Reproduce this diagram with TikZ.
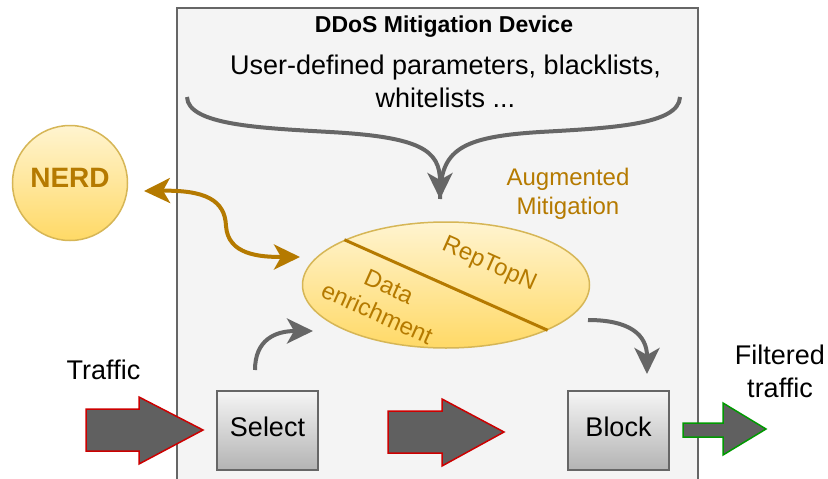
\documentclass[tikz,border=0pt]{standalone}
\usepackage{fontspec}
\setmainfont{Liberation Sans}
\usetikzlibrary{arrows.meta,shapes.geometric}
\definecolor{boxgray}{HTML}{666666}
\definecolor{devfill}{HTML}{F4F4F4}
\definecolor{nerdbrown}{RGB}{181,122,0}
\definecolor{yellowtop}{HTML}{FFF4D0}
\definecolor{yellowbot}{HTML}{FFD966}
\definecolor{yellowline}{HTML}{D6B656}
\definecolor{arrowgray}{HTML}{606060}
\definecolor{redline}{HTML}{CC0000}
\definecolor{greenline}{HTML}{009900}
\definecolor{btntop}{HTML}{F5F5F5}
\definecolor{btnbot}{HTML}{B3B3B3}
\begin{document}
\begin{tikzpicture}[x=1pt,y=-1pt,
  >={Stealth[length=26pt,width=25pt,inset=7pt]},
  bigtxt/.style={font=\fontsize{27}{33}\selectfont},
  midtxt/.style={font=\fontsize{24}{29}\selectfont},
  grayconn/.style={draw=boxgray, line width=4pt},
  brownconn/.style={draw=nerdbrown, line width=4pt},
  yellowshape/.style={draw=yellowline, line width=1.5pt, top color=yellowtop, bottom color=yellowbot, inner sep=0pt},
  btnbox/.style={rectangle, draw=boxgray, line width=1.5pt, top color=btntop, bottom color=btnbot, minimum width=101pt, minimum height=79pt, text depth=7pt, bigtxt},
  redarrow/.style={fill=arrowgray, draw=redline, line width=1.5pt},
  greenarrow/.style={fill=arrowgray, draw=greenline, line width=1.5pt}
]
\useasboundingbox (0,0) rectangle (828,479);
\begin{scope}
\clip (0,0) rectangle (828,479);
\draw[fill=devfill, draw=boxgray, line width=2pt] (177,8) rectangle (698,500);
\end{scope}

\node[anchor=base, font=\bfseries\fontsize{23}{28}\selectfont] (title) at (444,32) {DDoS Mitigation Device};
\node[anchor=base, bigtxt, align=center] (params) at (445.5,107) {User-defined parameters, blacklists,\\whitelists ...};
\node[anchor=base, midtxt, align=center, text=nerdbrown] (aug) at (568,214) {Augmented\\Mitigation};

% brace
\coordinate (braceL) at (187,97);
\coordinate (braceR) at (680,97);
\coordinate (bracetip) at (440,199);
\draw[grayconn] (braceR) .. controls (679,125) and (610,128) .. (540,132) .. controls (460,137) and (440,150) .. (bracetip);
\draw[grayconn, ->] (braceL) .. controls (188,125) and (260,128) .. (330,132) .. controls (420,137) and (440,150) .. (bracetip);

% ellipse
\node[ellipse, yellowshape, minimum width=287pt, minimum height=126pt] (E) at (446,285) {};
\draw[nerdbrown, line width=3pt] (E.156) -- (E.-24.5);
\node[midtxt, text=nerdbrown, rotate=-24] (rep) at (489,265) {RepTopN};
\node[midtxt, text=nerdbrown, rotate=-24, align=center] (data) at (383,300) {Data\\enrichment};

% NERD
\node[circle, yellowshape, minimum size=115pt, text depth=10pt, font=\bfseries\fontsize{28}{32}\selectfont, text=nerdbrown] (nerd) at (70,183) {NERD};
\coordinate (nerdtip) at (144,191);
\coordinate (elltip) at (300,257);
\draw[brownconn, <->] (nerdtip) .. controls (205,190) and (225,200) .. (226,226) .. controls (228,255) and (260,257) .. (elltip);

% boxes
\node[btnbox] (sel) at (267.5,430.5) {Select};
\node[btnbox] (blk) at (618.5,430.5) {Block};

\coordinate (selout) at (255,370);
\coordinate (selin) at (313,331);
\draw[grayconn, ->] (selout) .. controls (255,340) and (275,331) .. (selin);
\coordinate (blkfrom) at (588,320);
\coordinate (blkto) at (647,374);
\draw[grayconn, ->] (blkfrom) .. controls (630,320) and (647,335) .. (blkto);

% block arrows
\draw[redarrow] (86,409) -- (139,409) -- (139,397) -- (203,430) -- (139,464) -- (139,451) -- (86,451) -- cycle;
\draw[redarrow] (388,411) -- (442,411) -- (442,399) -- (504,432) -- (442,466) -- (442,453) -- (388,453) -- cycle;
\draw[greenarrow] (683,423) -- (723,423) -- (723,403) -- (766,429) -- (723,455) -- (723,437) -- (683,437) -- cycle;

\node[anchor=base, bigtxt] (traffic) at (103.5,379) {Traffic};
\node[anchor=base, bigtxt, align=center] (filtered) at (780,397) {Filtered\\traffic};
\end{tikzpicture}
\end{document}
